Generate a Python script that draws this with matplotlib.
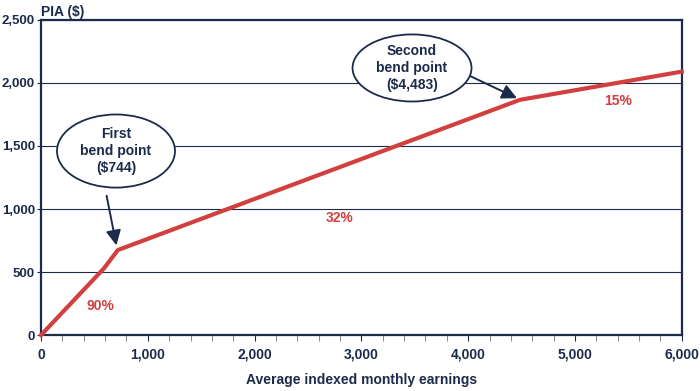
import matplotlib
matplotlib.use("Agg")
import matplotlib.pyplot as plt
from matplotlib.patches import Ellipse
from matplotlib.ticker import MultipleLocator, FuncFormatter

navy = "#1c2b4b"
red = "#d1403f"

# PIA formula line (AIME -> PIA)
aime = [0, 590, 720, 4483, 6000]
pia = [0, 530, 675, 1866, 2090]

# rate labels
rate_text = ["90%", "32%", "15%"]
rate_x = [552, 2800, 5400]
rate_y = [230, 930, 1857]

plt.rcParams["font.family"] = ["Liberation Sans", "DejaVu Sans"]
plt.rcParams["font.weight"] = "bold"
fs = 10

fig = plt.figure(figsize=(7, 3.91), dpi=100)
ax = fig.add_axes([0.0586, 0.143, 0.9154, 0.806])

ax.plot(aime, pia, color=red, lw=3, solid_joinstyle="round", zorder=3, clip_on=False)

ax.set_xlim(0, 6000)
ax.set_ylim(0, 2500)
ax.yaxis.set_major_locator(MultipleLocator(500))
ax.xaxis.set_major_locator(MultipleLocator(1000))
ax.xaxis.set_minor_locator(MultipleLocator(200))
fmt = FuncFormatter(lambda v, p: f"{int(v):,}")
ax.xaxis.set_major_formatter(fmt)
ax.yaxis.set_major_formatter(fmt)

ax.grid(axis="y", color=navy, lw=0.8)
ax.set_axisbelow(True)
for s in ax.spines.values():
    s.set_color(navy)
    s.set_linewidth(1.6)

ax.tick_params(axis="x", which="major", colors=navy, labelsize=fs, length=4, width=0.8, pad=5)
ax.tick_params(axis="y", which="major", colors=navy, labelsize=9.5, length=3, width=0.8, pad=1.5)
ax.tick_params(axis="x", which="minor", colors="#8a8f9c", length=4, width=0.8)
for lab in ax.get_xticklabels() + ax.get_yticklabels():
    lab.set_fontweight("bold")

ax.set_xlabel("Average indexed monthly earnings", fontsize=fs, color=navy,
              fontweight="bold", labelpad=8)
fig.text(0.059, 0.97, "PIA ($)", fontsize=fs, color=navy, fontweight="bold",
         ha="left", va="center")

for t, x, y in zip(rate_text, rate_x, rate_y):
    ax.text(x, y, t, color=red, fontsize=fs, fontweight="bold", ha="center", va="center")

# callouts
e1 = Ellipse((702, 1460), 1105, 580, facecolor="white", edgecolor=navy, lw=1.3, zorder=4)
ax.add_patch(e1)
ax.text(702, 1460, "First\nbend point\n($744)", ha="center", va="center",
        color=navy, fontsize=fs, fontweight="bold", linespacing=1.25, zorder=5)
ax.annotate("", xy=(711, 690), xytext=(609, 1127),
            arrowprops=dict(arrowstyle="-|>,head_length=0.9,head_width=0.45",
                            color=navy, lw=1.4), zorder=5)

e2 = Ellipse((3474, 2119), 1114, 532, facecolor="white", edgecolor=navy, lw=1.3, zorder=4)
ax.add_patch(e2)
ax.text(3474, 2119, "Second\nbend point\n($4,483)", ha="center", va="center",
        color=navy, fontsize=fs, fontweight="bold", linespacing=1.25, zorder=5)
ax.annotate("", xy=(4480, 1870), xytext=(3998, 2063),
            arrowprops=dict(arrowstyle="-|>,head_length=0.9,head_width=0.45",
                            color=navy, lw=1.4), zorder=5)

fig.savefig("out.png", dpi=100)
